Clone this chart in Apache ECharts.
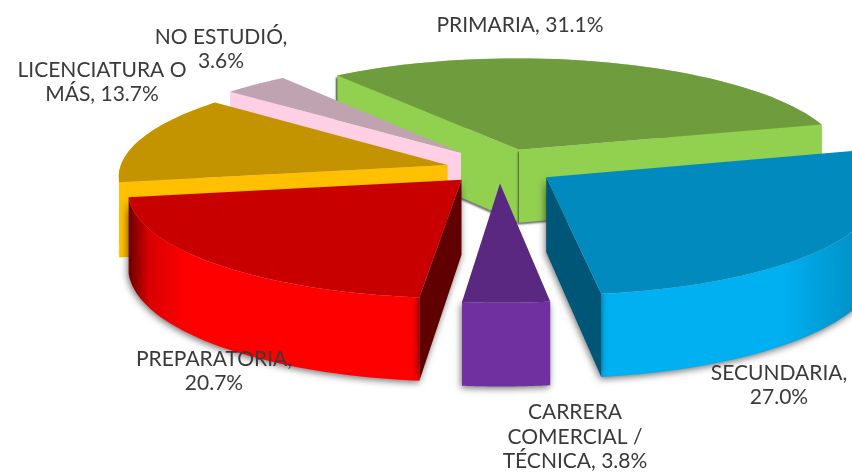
<!DOCTYPE html>
<html><head><meta charset="utf-8">
<style>html,body{margin:0;padding:0;background:#fff}#c{width:852px;height:472px}</style>
<script src="https://cdn.jsdelivr.net/npm/echarts@6/dist/echarts.min.js"></script>
</head><body><div id="c"></div>
<script>
const categories = ['PRIMARIA','SECUNDARIA','CARRERA COMERCIAL / TÉCNICA','PREPARATORIA','LICENCIATURA O MÁS','NO ESTUDIÓ'];
const labelNames = ['PRIMARIA, ','SECUNDARIA,\n','CARRERA\nCOMERCIAL /\nTÉCNICA, ','PREPARATORIA,\n','LICENCIATURA O\nMÁS, ','NO ESTUDIÓ,\n'];
const values = [31.1,27.0,3.8,20.7,13.7,3.6];

// Layout and styling (not data)
const view = {cx:490, cy:163, rx:326, ry:103, persp:0.1, startAngle:-37};
const explode = [[.09,.13],[.17,-.136],[.03,-.195],[-.086,-.16],[-.13,-.02],[-.09,.1]];
const tops = ['#6F9D3D','#008ABD','#5A2781','#C80000','#C49300','#C0A3B0'];
const walls = ['#92D050','#00B0F0','#7030A0','#FF0000','#FFC000','#FFCFE6'];
const sides = ['#92D050','#005677','#5A2781','#600000','#FFC000','#FFCFE6'];
const drawOrder = [0,5,4,3,1,2];
const shadowBlurs = [2,7,7,7,0,0];
const startWallShown = [true,false,false,true,true,true];
const endWallShown = [true,true,false,false,false,false];
const labelAt = [[520,25],[779,385],[575,437],[214,371],[102,82],[221,49]];

const total = values.reduce((a,b)=>a+b,0);
const angles = []; let acc = view.startAngle;
values.forEach(v=>{angles.push([acc,acc+v/total*360]);acc+=v/total*360;});
function proj(i,deg,r){
  const t=deg*Math.PI/180, X=explode[i][0]+r*Math.sin(t), Y=explode[i][1]+r*Math.cos(t), s=1/(1+view.persp*Y);
  return [view.cx+view.rx*X*s, view.cy-view.ry*Y*s];
}
const down = p=>[p[0],p[1]+73+0.07*(p[1]-150)];
function sliceEls(i){
  const [a0,a1]=angles[i], arc=[];
  for(let k=0;k<=48;k++) arc.push(proj(i,a0+(a1-a0)*k/48,1));
  const apex=proj(i,0,0);
  const wallQuad=(p,q)=>[p,q,down(q),down(p)];
  const shadow=shadowBlurs[i]?{shadowBlur:shadowBlurs[i],shadowColor:'rgba(0,0,0,.55)',shadowOffsetX:-1,shadowOffsetY:2}:{};
  const poly=(points,fill,extra)=>({type:'polygon',shape:{points},style:Object.assign({fill,stroke:null},extra||{})});
  let outerFill=walls[i];
  if(i===3) outerFill=new echarts.graphic.LinearGradient(0,0,1,0,[{offset:0,color:'#6a0000'},{offset:.07,color:'#d80000'},{offset:.2,color:'#ff0000'},{offset:1,color:'#ff0000'}]);
  if(i===1) outerFill=new echarts.graphic.LinearGradient(0,0,1,0,[{offset:0,color:'#00B0F0'},{offset:.65,color:'#00B0F0'},{offset:1,color:'#0088BB'}]);
  const els=[poly(arc.concat(arc.map(down).reverse()),outerFill,shadow)];
  if(startWallShown[i]) els.push(poly(wallQuad(arc[0],apex),sides[i],shadow));
  if(endWallShown[i]) els.push(poly(wallQuad(apex,arc[48]),sides[i],shadow));
  els.push(poly([apex].concat(arc),tops[i]));
  return els;
}
const chart=echarts.init(document.getElementById('c'),null,{renderer:'canvas'});
chart.setOption({
  animation:false,
  backgroundColor:'#fff',
  xAxis:{show:false},yAxis:{show:false},
  series:[{
    type:'custom',coordinateSystem:'none',silent:true,
    data:drawOrder.map(i=>({name:categories[i],value:[i,values[i]]})),
    renderItem:(p,api)=>({type:'group',children:sliceEls(api.value(0))})
  },{
    type:'custom',coordinateSystem:'none',silent:true,z:5,
    data:values.map((v,i)=>({name:categories[i],value:[i,v]})),
    renderItem:(p,api)=>{
      const i=api.value(0);
      return {type:'text',x:labelAt[i][0],y:labelAt[i][1],style:{
        text:labelNames[i]+values[i].toFixed(1)+'%',
        font:'21px Lato, sans-serif',fill:'#3a3a3a',align:'center',verticalAlign:'middle',lineHeight:24.5}};
    }
  }]
});
</script></body></html>
